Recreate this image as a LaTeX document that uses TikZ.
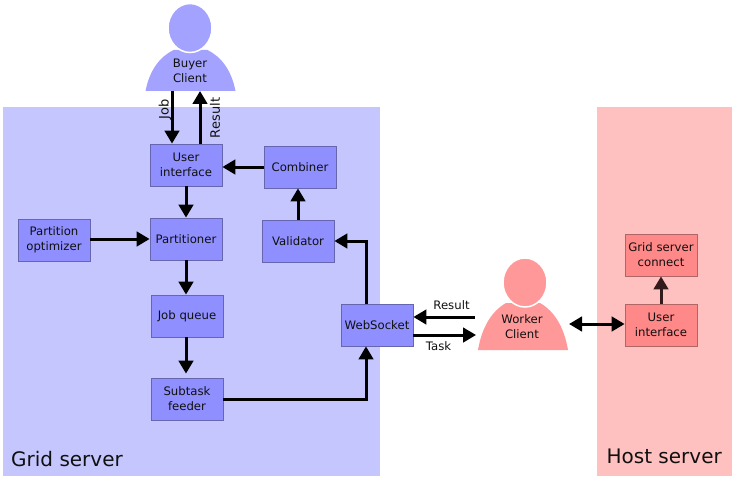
\documentclass[tikz,border=0pt]{standalone}
\usepackage{fontspec}
\setmainfont{DejaVu Sans}
\usetikzlibrary{arrows.meta,calc}
\definecolor{gridpanel}{HTML}{C6C6FF}
\definecolor{gridbox}{HTML}{8F8FFF}
\definecolor{gridedge}{HTML}{6666B0}
\definecolor{gridperson}{HTML}{A3A3FF}
\definecolor{hostpanel}{HTML}{FFC0C0}
\definecolor{hostbox}{HTML}{FF8888}
\definecolor{hostedge}{HTML}{B06666}
\definecolor{hostperson}{HTML}{FF9999}
\definecolor{inktext}{HTML}{101010}
\tikzset{
  boxlabel/.style={font=\fontsize{11.7}{15}\selectfont,text=inktext,align=center,inner sep=0pt},
  sidelabel/.style={boxlabel,font=\fontsize{13}{15}\selectfont,rotate=90},
  taskbox/.style={boxlabel,draw,line width=0.8pt,minimum width=72pt,minimum height=42pt},
  bigtip/.tip={Triangle[length=13pt,width=14.5pt]},
  flow/.style={line width=3pt,-bigtip},
  panellabel/.style={font=\fontsize{20}{23}\selectfont,text=inktext,inner sep=0pt}
}
% body centre x, shoulder y, foot y, head centre x, head centre y, colour
\newcommand{\drawperson}[6]{
  \path[fill=#6] (#1-45,#3) .. controls (#1-41,{#3-0.5*(#3-#2)}) and (#1-31,{#2+0.17*(#3-#2)}) .. (#1-17,#2)
    -- (#1+17,#2) .. controls (#1+31,{#2+0.17*(#3-#2)}) and (#1+41,{#3-0.5*(#3-#2)}) .. (#1+45,#3) -- cycle;
  \path[fill=#6,draw=white,line width=1.5pt] (#4,#5) ellipse (22 and 24.5);
}
\begin{document}
\begin{tikzpicture}[x=1pt,y=-1pt]
    \useasboundingbox (0,0) rectangle (735,484);
    \fill[gridpanel] (3,107) rectangle (380,476);
    \fill[hostpanel] (597,107) rectangle (732,476);
    \node[panellabel,anchor=base west] (gridlabel) at (11,466) {Grid server};
    \node[panellabel,anchor=base east] (hostlabel) at (722,463) {Host server};
    \foreach \N/\X/\Y/\T in {ui/186/165/{User\\interface},combiner/300/167/Combiner,
      optimizer/54/240/{Partition\\optimizer},partitioner/186/239/Partitioner,
      jobqueue/187/316/Job queue,feeder/187/399/{Subtask\\feeder},
      validator/298/241/Validator,websocket/377/325/WebSocket}
    {\node[taskbox,fill=gridbox,draw=gridedge] (\N) at (\X,\Y) {\T};}
    \foreach \N/\X/\Y/\T in {hostconnect/661/255/{Grid server\\connect},hostui/661/325/{User\\interface}}
    {\node[taskbox,fill=hostbox,draw=hostedge] (\N) at (\X,\Y) {\T};}
    \drawperson{190.5}{50}{91}{190}{28}{gridperson}
    \drawperson{523}{303}{350}{525}{282.5}{hostperson}
    \node[boxlabel] (buyer) at (190,71) {Buyer\\Client};
    \node[boxlabel] (worker) at (522,327) {Worker\\Client};
    \coordinate (buyerfoot) at (186,91);
    \coordinate (workerside) at (569,324);
    \coordinate (workertask) at (476,335);
    \coordinate (workerresult) at (475,317);
    % buyer and user interface
    \draw[flow] (buyerfoot -| 172,0) -- (ui.north -| 172,0);
    \draw[flow] (ui.north -| 200,0) -- (buyerfoot -| 200,0);
    \node[sidelabel] (joblabel) at (165,109.5) {Job};
    \node[sidelabel] (resultlabel) at (215,118) {Result};
    \draw[flow] (combiner) -- (combiner -| ui.east);
    \draw[flow] (ui) -- (partitioner);
    \draw[flow] (optimizer.east |- partitioner) -- (partitioner);
    \draw[flow] (partitioner) -- (partitioner |- jobqueue.north);
    \draw[flow,shorten >=4pt] (jobqueue.south -| partitioner) -- (partitioner |- feeder.north);
    \draw[flow] (feeder) -| ([xshift=-11pt]websocket.south);
    \draw[flow] ([xshift=-11pt]websocket.north) |- (validator);
    \draw[flow] (validator) -- (validator |- combiner.south);
    % worker side
    \draw[flow] (workerresult) -- (workerresult -| websocket.east);
    \node[boxlabel] (wresultlabel) at (451.5,305) {Result};
    \draw[flow] (workertask -| websocket.east) -- (workertask);
    \node[boxlabel] (tasklabel) at (438.5,346) {Task};
    \draw[line width=3pt,bigtip-bigtip] (workerside) -- (workerside -| hostui.west);
    \draw[flow,draw=black!80!hostbox,fill=black!80!hostbox] (hostui) -- (hostconnect);
\end{tikzpicture}
\end{document}
